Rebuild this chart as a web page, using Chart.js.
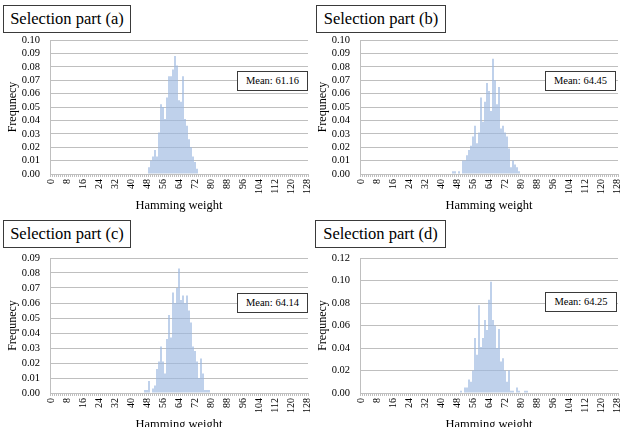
<!DOCTYPE html>
<html>
<head>
<meta charset="utf-8">
<script src="https://cdn.jsdelivr.net/npm/chart.js@4"></script>
<style>
  html, body { margin: 0; padding: 0; background: #fff; overflow: hidden; }
  body { width: 621px; height: 427px; position: relative; font-family: 'Liberation Serif', 'Times New Roman', Times, serif; }
  .panel { position: absolute; }
  .panel canvas { display: block; }
  .title-box {
    position: absolute; border: 1px solid #3a3a3a; background: #fff;
    font-size: 16.5px; line-height: 26px; text-align: center; color: #000;
  }
  .mean-box {
    position: absolute; border: 1px solid #3a3a3a; background: #fff;
    font-size: 10.5px; line-height: 18px; text-align: center; color: #000;
  }
</style>
</head>
<body>
<div class="panel" style="left:0;top:0;width:310px;height:213px"><canvas id="chartA"></canvas></div>
<div class="panel" style="left:310px;top:0;width:311px;height:213px"><canvas id="chartB"></canvas></div>
<div class="panel" style="left:0;top:213px;width:310px;height:219px"><canvas id="chartC"></canvas></div>
<div class="panel" style="left:310px;top:213px;width:311px;height:219px"><canvas id="chartD"></canvas></div>

<div class="title-box" style="left:3px;top:5px;width:126px;height:26px">Selection part (a)</div>
<div class="title-box" style="left:316px;top:5px;width:128px;height:26px">Selection part (b)</div>
<div class="title-box" style="left:3px;top:220px;width:126px;height:26px">Selection part (c)</div>
<div class="title-box" style="left:315px;top:220px;width:129px;height:26px">Selection part (d)</div>

<div class="mean-box" style="left:237px;top:71px;width:69px;height:18px">Mean: 61.16</div>
<div class="mean-box" style="left:545px;top:71px;width:69px;height:18px">Mean: 64.45</div>
<div class="mean-box" style="left:237px;top:293px;width:69px;height:18px">Mean: 64.14</div>
<div class="mean-box" style="left:545px;top:292px;width:70px;height:18px">Mean: 64.25</div>

<script>
// hamming weights 0..128
const weights = [];
for (let w = 0; w <= 128; w++) weights.push(w);

// frequencies, starting at the given weight (everything else is 0)
const startA = 49;
const freqA = [0.005, 0.010, 0.013, 0.018, 0.013, 0.031, 0.052, 0.050, 0.041, 0.057,
  0.073, 0.073, 0.078, 0.088, 0.081, 0.055, 0.054, 0.073, 0.041, 0.036,
  0.026, 0.020, 0.013, 0.009, 0.004];

const startB = 46;
const freqB = [0.002, 0.002, 0, 0.002, 0, 0.010, 0.010, 0.014, 0.018, 0.021,
  0.028, 0.036, 0.023, 0.031, 0.057, 0.039, 0.054, 0.068, 0.062, 0.047,
  0.086, 0.070, 0.052, 0.065, 0.034, 0.036, 0.031, 0.028, 0.019, 0.005,
  0.010, 0.007, 0.005, 0.002];

const startC = 47;
const freqC = [0.002, 0.002, 0.008, 0, 0.003, 0.005, 0.016, 0.021, 0.031, 0.021,
  0.013, 0.036, 0.052, 0.037, 0.067, 0.060, 0.070, 0.083, 0.062, 0.065,
  0.060, 0.065, 0.055, 0.047, 0.031, 0.028, 0.021, 0.010, 0.023, 0.013,
  0.002, 0.002, 0.002];

const startD = 50;
const freqD = [0.002, 0, 0.005, 0.005, 0.012, 0.010, 0.020, 0.049, 0.034, 0.078,
  0.041, 0.049, 0.065, 0.056, 0.083, 0.099, 0.065, 0.060, 0.040, 0.057,
  0.028, 0.031, 0.020, 0.010, 0.020, 0.002, 0.002, 0, 0.005, 0.002,
  0, 0, 0.002, 0.002];

function fullSeries(start, vals) {
  return weights.map(w => (w >= start && w < start + vals.length) ? vals[w - start] : 0);
}

const serif = "'Liberation Serif', 'Times New Roman', Times, serif";
const gridGray = '#bfbfbf';

function makeChart(id, start, vals, yMax, yStep, topPad, rightPad) {
  new Chart(document.getElementById(id), {
    type: 'bar',
    data: {
      labels: weights,
      datasets: [{
        data: fullSeries(start, vals),
        backgroundColor: '#9db8e0',
        borderWidth: 0,
        barPercentage: 0.65,
        categoryPercentage: 1.0
      }]
    },
    options: {
      responsive: true,
      maintainAspectRatio: false,
      animation: false,
      layout: { padding: { top: topPad, right: rightPad, left: 0, bottom: 0 } },
      plugins: { legend: { display: false }, tooltip: { enabled: false } },
      scales: {
        x: {
          grid: { display: true, drawOnChartArea: false, drawTicks: true, tickLength: 3, color: gridGray },
          border: { color: gridGray },
          ticks: {
            autoSkip: false,
            minRotation: 90,
            maxRotation: 90,
            padding: 2,
            color: '#000',
            font: { family: serif, size: 10 },
            callback: (v, i) => (i % 8 === 0 ? String(weights[i]) : '')
          },
          title: { display: true, text: 'Hamming weight', color: '#000', font: { family: serif, size: 12.5 }, padding: { top: 0, bottom: 0 } },
          afterFit: s => { s.height = 39; s.paddingLeft = 0; s.paddingRight = 0; }
        },
        y: {
          min: 0,
          max: yMax,
          grid: { color: gridGray, drawTicks: false },
          border: { display: true, color: gridGray },
          ticks: {
            autoSkip: false,
            stepSize: yStep,
            padding: 10,
            color: '#000',
            font: { family: serif, size: 10.5 },
            callback: v => v.toFixed(2)
          },
          title: { display: true, text: 'Frequnecy', color: '#000', font: { family: serif, size: 12 }, padding: { top: 6, bottom: 0 } },
          afterFit: s => { s.width = 50; s.paddingTop = 0; s.paddingBottom = 0; }
        }
      }
    }
  });
}

makeChart('chartA', startA, freqA, 0.10, 0.01, 40, 2);
makeChart('chartB', startB, freqB, 0.10, 0.01, 40, 3);
makeChart('chartC', startC, freqC, 0.09, 0.01, 45, 2);
makeChart('chartD', startD, freqD, 0.12, 0.02, 45, 3);
</script>
</body>
</html>
